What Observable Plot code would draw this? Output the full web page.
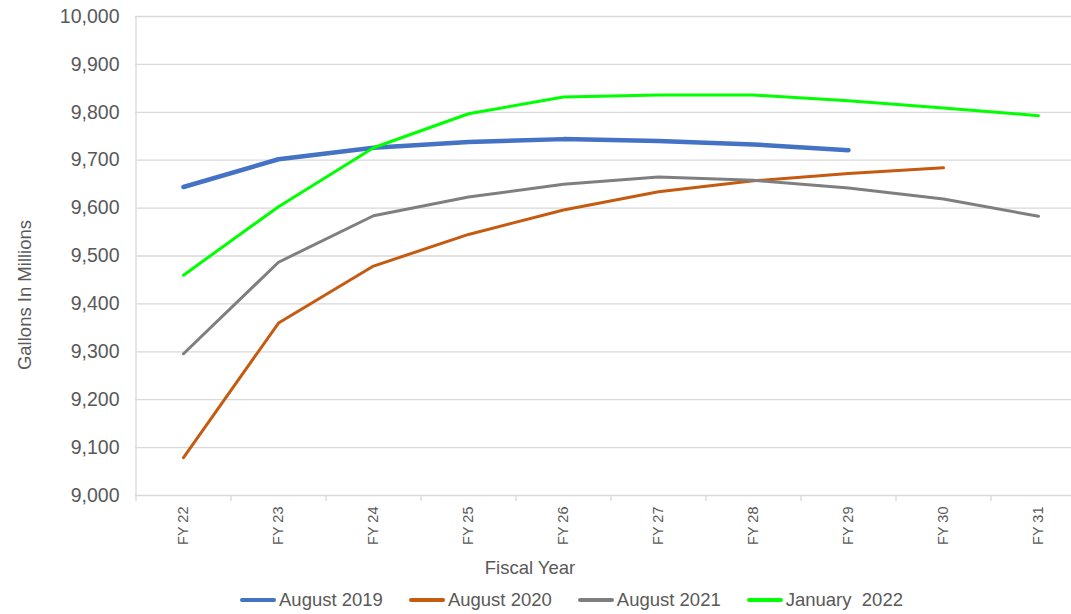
<!DOCTYPE html>
<html>
<head>
<meta charset="utf-8">
<script src="https://cdn.jsdelivr.net/npm/d3@7"></script>
<script src="https://cdn.jsdelivr.net/npm/@observablehq/plot@0.6"></script>
<style>
  html, body { margin: 0; padding: 0; background: #fff; overflow: hidden; }
  body { font-family: "Liberation Sans", Arial, sans-serif; color: #595959; }
  #wrap { position: relative; width: 1071px; height: 614px; overflow: hidden; }
  #chart { position: absolute; left: 0; top: 0; width: 1085px; }
  #chart svg { max-width: none !important; width: 1085px !important; height: 580px !important; }
  .ytitle { position: absolute; left: 25px; top: 295px; transform: translate(-50%, -50%) rotate(-90deg);
            font-size: 18.5px; white-space: nowrap; }
  .xtitle { position: absolute; left: 530px; top: 568px; transform: translate(-50%, -50%);
            font-size: 18.5px; white-space: nowrap; }
  #legend { position: absolute; left: 240px; top: 589px; display: flex; align-items: center;
            font-size: 18.5px; white-space: nowrap; }
  .item { display: flex; align-items: center; margin-right: 26px; }
  .swatch { width: 36px; height: 4px; border-radius: 2px; margin-right: 3px; }
</style>
</head>
<body>
<div id="wrap">
  <div id="chart"></div>
  <div class="ytitle">Gallons In Millions</div>
  <div class="xtitle">Fiscal Year</div>
  <div id="legend"></div>
</div>
<script>
const fiscalYears = ["FY 22", "FY 23", "FY 24", "FY 25", "FY 26", "FY 27", "FY 28", "FY 29", "FY 30", "FY 31"];
const yTicks = [9000, 9100, 9200, 9300, 9400, 9500, 9600, 9700, 9800, 9900, 10000];

const seriesNames = ["August 2019", "August 2020", "August 2021", "January  2022"];
const aug2019 = [9644, 9702, 9726, 9738, 9744, 9740, 9733, 9721];
const aug2020 = [9079, 9360, 9479, 9545, 9596, 9634, 9657, 9672, 9684];
const aug2021 = [9296, 9487, 9584, 9623, 9650, 9665, 9658, 9642, 9619, 9583];
const jan2022 = [9460, 9603, 9726, 9797, 9832, 9836, 9836, 9824, 9809, 9793];

const seriesValues = [aug2019, aug2020, aug2021, jan2022];
const seriesColors = ["#4472C4", "#C55A11", "#7F7F7F", "#00FF00"];
const seriesWidths = [4.5, 3, 3, 3];

const tables = seriesValues.map((vals, s) =>
  vals.map((v, i) => ({ series: seriesNames[s], year: fiscalYears[i], value: v }))
);

const half = 47.5; // half band step in px, for boundary tick marks

const plot = Plot.plot({
  width: 1085,
  height: 580,
  marginLeft: 135,
  marginRight: 0,
  marginTop: 16,
  marginBottom: 85,
  style: { fontFamily: '"Liberation Sans", Arial, sans-serif', color: "#595959", background: "transparent" },
  x: { type: "point", domain: fiscalYears, padding: 0.5, label: null },
  y: { domain: [9000, 10000], label: null },
  marks: [
    Plot.gridY(yTicks, { stroke: "#d9d9d9", strokeOpacity: 1, strokeWidth: 1.3 }),
    Plot.ruleX([fiscalYears[0]], { dx: -half, y1: 10000, y2: 9000, insetBottom: -6, stroke: "#d9d9d9", strokeWidth: 1.3 }),
    Plot.ruleX(fiscalYears, { dx: half, y1: 9000, y2: 9000, insetBottom: -6, stroke: "#d9d9d9", strokeWidth: 1.3 }),
    Plot.axisY({ ticks: yTicks, tickSize: 0, tickPadding: 16, tickFormat: d3.format(","), fontSize: 19.5, label: null }),
    Plot.axisX({ tickSize: 0, tickRotate: -90, tickPadding: 11, fontSize: 14.5, label: null }),
    ...tables.map((t, s) => Plot.line(t, {
      x: "year", y: "value", stroke: seriesColors[s], strokeWidth: seriesWidths[s],
      strokeLinecap: "round", strokeLinejoin: "round"
    }))
  ]
});
document.getElementById("chart").appendChild(plot);

const legend = document.getElementById("legend");
seriesNames.forEach((name, s) => {
  const item = document.createElement("div");
  item.className = "item";
  const sw = document.createElement("div");
  sw.className = "swatch";
  sw.style.background = seriesColors[s];
  const label = document.createElement("span");
  label.textContent = name;
  label.style.whiteSpace = "pre";
  item.appendChild(sw);
  item.appendChild(label);
  legend.appendChild(item);
});
</script>
</body>
</html>
